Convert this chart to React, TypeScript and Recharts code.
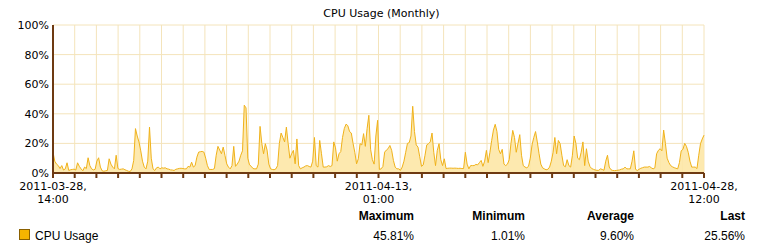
import React from 'react';
import { AreaChart, Area, XAxis, YAxis, CartesianGrid } from 'recharts';

// ---------- data ----------
const chartTitle = 'CPU Usage (Monthly)';
const seriesName = 'CPU Usage';
const sampleHours = 2; // one sample every 2 hours
const totalHours = 742; // 2011-03-28 14:00 -> 2011-04-28 12:00

// CPU usage (%) per 2-hour sample, split by period
const cpuPart1 = [
  14, 8, 6, 5, 3, 5, 2, 2.8, 6.9, 1.7,
  2.2, 2.4, 2.6, 2, 6.9, 4.5, 2.8, 1.5, 4, 3,
  10.3, 5, 2.8, 2.1, 2.5, 8, 10.3, 4, 1.5, 1.2,
  1.5, 1.7, 9.6, 6, 4, 2.8, 12, 3, 2.4, 2.6,
  2.8, 2.2, 1.7, 1.2, 1.01, 2.8, 8.5, 30, 25, 21,
  15, 8, 4, 2.8, 8, 31, 10, 2.8, 1.7, 3.5,
  4, 2.8, 3.5, 3.3, 3.5, 2.8, 2.6, 2.1, 2, 1.7,
  2.5, 2.8, 3.1, 3.2, 3, 2.8,
];
const cpuPart2 = [
  2.8, 4.5, 4, 7.3, 4, 5, 10.7, 14.1, 14.4, 14.6,
  14.1, 10, 5, 2.4, 2.4, 2.4, 3, 12, 18, 15.5,
  13, 17.5, 11.9, 6.2, 4, 2.8, 5, 18, 4.5, 6,
  8, 12, 15, 45.81, 44, 10, 5.5, 4.5, 3, 2.8,
  2.8, 6, 31.5, 20, 13, 19.8, 15.5, 6, 2.8, 2.4,
  2.2, 2.8, 5, 20, 27, 24, 21, 31, 20, 10,
  13, 15.3, 6.2, 23, 5, 2.8, 3.5, 4, 4.8, 5,
  4.4, 4, 8, 24,
];
const cpuPart3 = [
  5, 4, 22, 13, 4, 4, 4.2, 5, 4.4, 5,
  21, 17, 8, 13, 14.5, 24, 30, 33, 32, 28,
  27, 20, 14, 6.2, 9.6, 19.8, 19, 26.6, 18, 30,
  39, 16, 9, 6, 25, 35.6, 2.4, 2.8, 4.4, 14.1,
  15.5, 16.5, 18.6, 15.3, 8.5, 4, 2.8, 2.8, 1.8, 4,
  8, 14, 20, 20.5, 25, 45.1, 28, 19, 17.5, 11,
  4.5, 5.5, 12, 19, 19.8, 21, 27, 14, 5, 15.3,
  19.8, 9, 5, 9.6,
];
const cpuPart4 = [
  3, 3.2, 3.3, 3.3, 3.2, 3.3, 3.2, 3.1, 3.2, 3,
  3, 14, 6, 2.8, 5, 5, 5, 5.8, 5.5, 7,
  8.5, 4.5, 8, 15.3, 7, 14, 22, 29, 32.9, 28,
  16, 13, 16, 6, 5, 6, 9, 20, 28.8, 24,
  14, 20, 25.9, 12, 5, 4, 3.5, 4.5, 10, 19,
  24, 28, 21, 13, 6, 3.5, 2.8, 2.2, 2.5, 4,
  8, 14, 24, 13, 22, 19.8, 12, 5, 4.2, 9,
  5, 4, 12, 25,
];
const cpuPart5 = [
  20, 10, 9, 14, 21, 5, 16.4, 8, 4.4, 3,
  2.5, 2, 1.8, 1.8, 2.8, 2.4, 1.8, 8, 12, 4,
  2.2, 1.7, 1.6, 1.7, 1.9, 2.1, 2.6, 2.8, 4, 2.8,
  2.8, 2.8, 8, 15, 2.5, 1.7, 2.5, 3.2, 3.6, 4,
  4, 4, 4.4, 3.5, 2.8, 3.5, 13, 15.3, 16.4, 15,
  29, 20, 10, 7, 5, 4.2, 3.6, 3.2, 2.8, 7,
  15, 16, 20, 18, 14, 8, 4, 4, 4, 3,
  12, 19.8, 23, 25.56,
];

const xTickDivisions = 30;
const xLabels: Record<number, string[]> = {
  0: ['2011-03-28,', '14:00'],
  15: ['2011-04-13,', '01:00'],
  30: ['2011-04-28,', '12:00'],
};
const yTicks = [0, 20, 40, 60, 80, 100];

const statHeaders = ['Maximum', 'Minimum', 'Average', 'Last'];
const statValues = ['45.81%', '1.01%', '9.60%', '25.56%'];

// ---------- derived ----------
const cpu = [...cpuPart1, ...cpuPart2, ...cpuPart3, ...cpuPart4, ...cpuPart5];
const data = cpu.map((v, i) => ({ h: i * sampleHours, cpu: v }));
const xTicks = Array.from({ length: xTickDivisions + 1 }, (_, i) => (i * totalHours) / xTickDivisions);

// ---------- styles ----------
const axisColor = '#6e3a12';
const gridColor = '#f4e4bb';
const lineColor = '#f0b21a';
const fillColor = '#fde7a6';
const font = '"DejaVu Sans", Verdana, sans-serif';
const legendFont = '"Liberation Sans", Arial, sans-serif';
const statRight = [414, 525, 634, 745];

const XTick = (props: any) => {
  const { x, y, payload } = props;
  const idx = Math.round((payload.value * xTickDivisions) / totalHours);
  const lines = xLabels[idx];
  if (!lines) return <g />;
  return (
    <text x={x} y={y} textAnchor="middle" fontFamily={font} fontSize={11} fill="#000">
      <tspan x={x} dy={10}>{lines[0]}</tspan>
      <tspan x={x} dy={13}>{lines[1]}</tspan>
    </text>
  );
};

export default function App() {
  return (
    <div style={{ position: 'absolute', left: 0, top: 0, width: 759, height: 246, background: '#fff' }}>
      <div
        style={{
          position: 'absolute',
          left: 2,
          top: 7,
          width: 759,
          textAlign: 'center',
          fontFamily: font,
          fontSize: 11,
          lineHeight: '13px',
          color: '#000',
        }}
      >
        {chartTitle}
      </div>
      <AreaChart
        width={759}
        height={246}
        data={data}
        margin={{ top: 25, right: 55, bottom: 33, left: 8 }}
      >
        <CartesianGrid stroke={gridColor} strokeWidth={1} />
        <XAxis
          dataKey="h"
          type="number"
          domain={[0, totalHours]}
          ticks={xTicks}
          interval={0}
          height={40}
          tickSize={5}
          tickMargin={2}
          axisLine={{ stroke: axisColor, strokeWidth: 2 }}
          tickLine={{ stroke: axisColor, strokeWidth: 2 }}
          tick={<XTick />}
        />
        <YAxis
          type="number"
          domain={[0, 100]}
          ticks={yTicks}
          interval={0}
          width={45}
          tickSize={0}
          tickMargin={4}
          tickLine={false}
          axisLine={{ stroke: axisColor, strokeWidth: 2 }}
          tickFormatter={(v: number) => `${v}%`}
          tick={{ fill: '#000', fontSize: 11, fontFamily: font }}
        />
        <Area
          type="linear"
          dataKey="cpu"
          stroke={lineColor}
          strokeWidth={1}
          fill={fillColor}
          fillOpacity={0.9}
          isAnimationActive={false}
          dot={false}
          activeDot={false}
        />
      </AreaChart>
      {statHeaders.map((h, i) => (
        <div
          key={h}
          style={{
            position: 'absolute',
            left: statRight[i] - 120,
            width: 120,
            top: 209,
            textAlign: 'right',
            fontFamily: legendFont,
            fontSize: 12,
            fontWeight: 'bold',
            lineHeight: '14px',
            color: '#000',
          }}
        >
          {h}
        </div>
      ))}
      {statValues.map((v, i) => (
        <div
          key={statHeaders[i]}
          style={{
            position: 'absolute',
            left: statRight[i] - 120,
            width: 120,
            top: 229,
            textAlign: 'right',
            fontFamily: legendFont,
            fontSize: 12,
            lineHeight: '14px',
            color: '#000',
          }}
        >
          {v}
        </div>
      ))}
      <div
        style={{
          position: 'absolute',
          left: 19,
          top: 229,
          width: 9,
          height: 9,
          background: '#f5b400',
          border: '1px solid #8a6000',
        }}
      />
      <div
        style={{
          position: 'absolute',
          left: 35,
          top: 229,
          fontFamily: legendFont,
          fontSize: 12,
          lineHeight: '14px',
          color: '#000',
        }}
      >
        {seriesName}
      </div>
    </div>
  );
}
